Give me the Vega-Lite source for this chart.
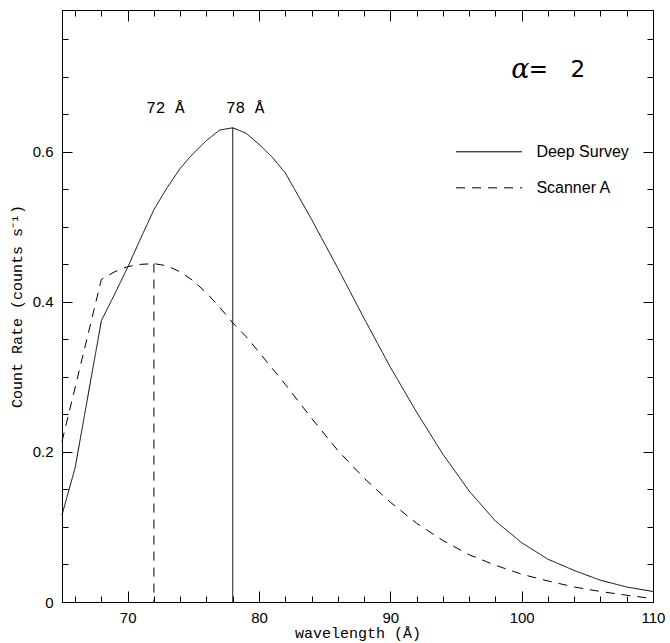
{
  "$schema": "https://vega.github.io/schema/vega-lite/v6.json",
  "width": 591,
  "height": 592,
  "autosize": {"type": "none"},
  "padding": {"left": 62, "top": 10, "right": 17, "bottom": 41},
  "background": "white",
  "config": {
    "view": {"stroke": "black", "strokeWidth": 1},
    "axis": {
      "grid": false,
      "domainColor": "black",
      "tickColor": "black",
      "tickWidth": 1,
      "labelColor": "black",
      "labelFont": "Liberation Sans",
      "labelFontSize": 15,
      "labelFlush": false,
      "labelOverlap": false,
      "titleColor": "black",
      "titleFont": "Liberation Mono",
      "titleFontSize": 15,
      "titleFontWeight": "normal"
    }
  },
  "datasets": {
    "curves": [
      {"series": "Deep Survey", "x": 65, "y": 0.116},
      {"series": "Deep Survey", "x": 66, "y": 0.179},
      {"series": "Deep Survey", "x": 68, "y": 0.375},
      {"series": "Deep Survey", "x": 69, "y": 0.41},
      {"series": "Deep Survey", "x": 70, "y": 0.446},
      {"series": "Deep Survey", "x": 71, "y": 0.485},
      {"series": "Deep Survey", "x": 72, "y": 0.523},
      {"series": "Deep Survey", "x": 73, "y": 0.552},
      {"series": "Deep Survey", "x": 74, "y": 0.578},
      {"series": "Deep Survey", "x": 75, "y": 0.598},
      {"series": "Deep Survey", "x": 76, "y": 0.615},
      {"series": "Deep Survey", "x": 77, "y": 0.629},
      {"series": "Deep Survey", "x": 78, "y": 0.632},
      {"series": "Deep Survey", "x": 79, "y": 0.625},
      {"series": "Deep Survey", "x": 80, "y": 0.61},
      {"series": "Deep Survey", "x": 81, "y": 0.593},
      {"series": "Deep Survey", "x": 82, "y": 0.572},
      {"series": "Deep Survey", "x": 84, "y": 0.51},
      {"series": "Deep Survey", "x": 86, "y": 0.445},
      {"series": "Deep Survey", "x": 88, "y": 0.378},
      {"series": "Deep Survey", "x": 90, "y": 0.313},
      {"series": "Deep Survey", "x": 92, "y": 0.253},
      {"series": "Deep Survey", "x": 94, "y": 0.197},
      {"series": "Deep Survey", "x": 96, "y": 0.148},
      {"series": "Deep Survey", "x": 98, "y": 0.108},
      {"series": "Deep Survey", "x": 100, "y": 0.079},
      {"series": "Deep Survey", "x": 102, "y": 0.057},
      {"series": "Deep Survey", "x": 104, "y": 0.042},
      {"series": "Deep Survey", "x": 106, "y": 0.029},
      {"series": "Deep Survey", "x": 108, "y": 0.02},
      {"series": "Deep Survey", "x": 110, "y": 0.014},
      {"series": "Scanner A", "x": 65, "y": 0.214},
      {"series": "Scanner A", "x": 68, "y": 0.43},
      {"series": "Scanner A", "x": 69, "y": 0.44},
      {"series": "Scanner A", "x": 70, "y": 0.447},
      {"series": "Scanner A", "x": 71, "y": 0.45},
      {"series": "Scanner A", "x": 72, "y": 0.451},
      {"series": "Scanner A", "x": 73, "y": 0.448},
      {"series": "Scanner A", "x": 74, "y": 0.44},
      {"series": "Scanner A", "x": 75, "y": 0.428},
      {"series": "Scanner A", "x": 76, "y": 0.412},
      {"series": "Scanner A", "x": 77, "y": 0.393},
      {"series": "Scanner A", "x": 78, "y": 0.372},
      {"series": "Scanner A", "x": 79, "y": 0.354},
      {"series": "Scanner A", "x": 80, "y": 0.333},
      {"series": "Scanner A", "x": 82, "y": 0.29},
      {"series": "Scanner A", "x": 84, "y": 0.245},
      {"series": "Scanner A", "x": 86, "y": 0.202},
      {"series": "Scanner A", "x": 88, "y": 0.165},
      {"series": "Scanner A", "x": 90, "y": 0.133},
      {"series": "Scanner A", "x": 92, "y": 0.105},
      {"series": "Scanner A", "x": 94, "y": 0.082},
      {"series": "Scanner A", "x": 96, "y": 0.063},
      {"series": "Scanner A", "x": 98, "y": 0.049},
      {"series": "Scanner A", "x": 100, "y": 0.037},
      {"series": "Scanner A", "x": 102, "y": 0.028},
      {"series": "Scanner A", "x": 104, "y": 0.02},
      {"series": "Scanner A", "x": 106, "y": 0.014},
      {"series": "Scanner A", "x": 108, "y": 0.009},
      {"series": "Scanner A", "x": 110, "y": 0.0045}
    ],
    "peaks": [
      {"series": "Scanner A", "x": 72, "y": 0.451},
      {"series": "Deep Survey", "x": 78, "y": 0.632}
    ],
    "peaklabels": [
      {"label": "72 Å", "x": 72.87, "y": 0.658},
      {"label": "78 Å", "x": 78.94, "y": 0.658}
    ],
    "legend": [
      {"series": "Deep Survey", "x1": 95.0, "x2": 100.03, "tx": 101.12, "y": 0.6},
      {"series": "Scanner A", "x1": 95.0, "x2": 100.03, "tx": 101.12, "y": 0.552}
    ],
    "alpha": [
      {"t": "α", "x": 99.9, "y": 0.709}
    ],
    "eq": [
      {"t": "=", "x": 101.28, "y": 0.709},
      {"t": "2", "x": 104.27, "y": 0.709}
    ]
  },
  "layer": [
    {
      "data": {"name": "curves"},
      "mark": {"type": "line", "color": "black", "strokeWidth": 1},
      "encoding": {
        "x": {
          "field": "x", "type": "quantitative",
          "scale": {"domain": [65, 110], "nice": false, "zero": false},
          "axis": {
            "orient": "bottom",
            "values": [66, 68, 70, 72, 74, 76, 78, 80, 82, 84, 86, 88, 90, 92, 94, 96, 98, 100, 102, 104, 106, 108, 110],
            "labelExpr": "datum.value % 10 === 0 ? datum.label : ''",
            "tickSize": {"condition": {"test": "datum.value % 10 === 0", "value": -11}, "value": -6},
            "labelPadding": 19,
            "title": "wavelength (Å)",
            "titleBaseline": "alphabetic",
            "titleY": 35
          }
        },
        "y": {
          "field": "y", "type": "quantitative",
          "scale": {"domain": [0, 0.789], "nice": false, "zero": false},
          "axis": {
            "orient": "left",
            "values": [0, 0.05, 0.1, 0.15, 0.2, 0.25, 0.3, 0.35, 0.4, 0.45, 0.5, 0.55, 0.6, 0.65, 0.7, 0.75],
            "labelExpr": "round(datum.value * 100) % 20 === 0 ? (datum.value === 0 ? '0' : format(datum.value, '.1f')) : ''",
            "tickSize": {"condition": {"test": "round(datum.value * 100) % 20 === 0", "value": -10}, "value": -6},
            "labelPadding": 19,
            "title": "Count Rate (counts s⁻¹)",
            "titlePadding": 8
          }
        },
        "strokeDash": {
          "field": "series", "type": "nominal",
          "scale": {"domain": ["Deep Survey", "Scanner A"], "range": [[1, 0], [9, 7]]},
          "legend": null
        }
      }
    },
    {
      "data": {"name": "peaks"},
      "mark": {"type": "rule", "color": "black", "strokeWidth": 1},
      "encoding": {
        "x": {
          "field": "x", "type": "quantitative",
          "scale": {"domain": [65, 110], "nice": false, "zero": false},
          "axis": {
            "orient": "top",
            "values": [66, 68, 70, 72, 74, 76, 78, 80, 82, 84, 86, 88, 90, 92, 94, 96, 98, 100, 102, 104, 106, 108, 110],
            "labels": false,
            "title": null,
            "tickSize": {"condition": {"test": "datum.value % 10 === 0", "value": -11}, "value": -6}
          }
        },
        "y": {
          "field": "y", "type": "quantitative",
          "scale": {"domain": [0, 0.789], "nice": false, "zero": false},
          "axis": {
            "orient": "right",
            "values": [0, 0.05, 0.1, 0.15, 0.2, 0.25, 0.3, 0.35, 0.4, 0.45, 0.5, 0.55, 0.6, 0.65, 0.7, 0.75],
            "labels": false,
            "title": null,
            "tickSize": {"condition": {"test": "round(datum.value * 100) % 20 === 0", "value": -10}, "value": -6}
          }
        },
        "y2": {"datum": 0},
        "strokeDash": {"field": "series", "type": "nominal", "legend": null}
      }
    },
    {
      "data": {"name": "peaklabels"},
      "mark": {"type": "text", "font": "Liberation Mono", "fontSize": 16, "color": "black", "align": "center", "baseline": "middle"},
      "encoding": {
        "x": {"field": "x", "type": "quantitative", "axis": null},
        "y": {"field": "y", "type": "quantitative", "axis": null},
        "text": {"field": "label"}
      }
    },
    {
      "data": {"name": "legend"},
      "mark": {"type": "rule", "color": "black", "strokeWidth": 1},
      "encoding": {
        "x": {"field": "x1", "type": "quantitative", "axis": null},
        "x2": {"field": "x2"},
        "y": {"field": "y", "type": "quantitative", "axis": null},
        "strokeDash": {"field": "series", "type": "nominal", "legend": null}
      }
    },
    {
      "data": {"name": "legend"},
      "mark": {"type": "text", "font": "Liberation Sans", "fontSize": 16, "color": "black", "align": "left", "baseline": "middle"},
      "encoding": {
        "x": {"field": "tx", "type": "quantitative", "axis": null},
        "y": {"field": "y", "type": "quantitative", "axis": null},
        "text": {"field": "series"}
      }
    },
    {
      "data": {"name": "alpha"},
      "mark": {"type": "text", "font": "DejaVu Serif", "fontStyle": "italic", "fontSize": 27, "color": "black", "align": "center", "baseline": "middle"},
      "encoding": {
        "x": {"field": "x", "type": "quantitative", "axis": null},
        "y": {"field": "y", "type": "quantitative", "axis": null},
        "text": {"field": "t"}
      }
    },
    {
      "data": {"name": "eq"},
      "mark": {"type": "text", "font": "DejaVu Sans", "fontSize": 23, "color": "black", "align": "center", "baseline": "middle"},
      "encoding": {
        "x": {"field": "x", "type": "quantitative", "axis": null},
        "y": {"field": "y", "type": "quantitative", "axis": null},
        "text": {"field": "t"}
      }
    }
  ],
  "resolve": {"axis": {"x": "independent", "y": "independent"}}
}
